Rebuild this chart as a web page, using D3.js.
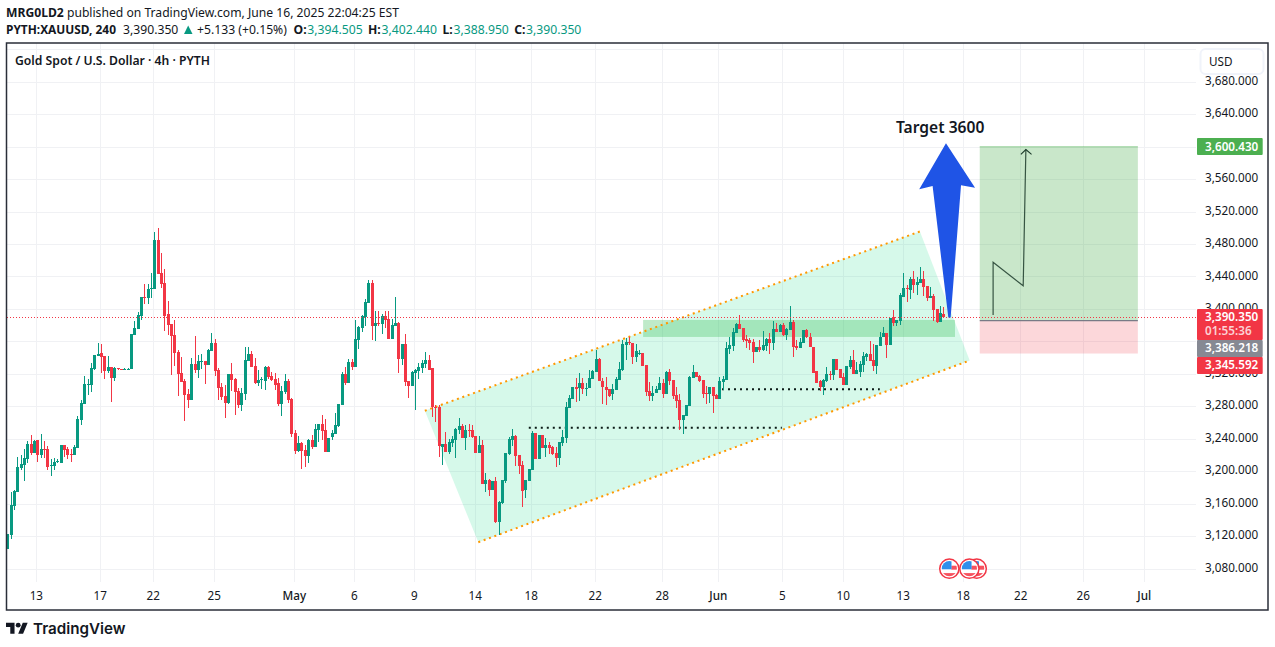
<!DOCTYPE html>
<html><head><meta charset="utf-8">
<script src="https://cdn.jsdelivr.net/npm/d3@7/dist/d3.min.js"></script>
<style>
html,body{margin:0;padding:0;background:#fff}
svg{display:block;font-family:"Noto Sans",sans-serif}
</style></head><body>
<svg id="c" width="1275" height="647"></svg>
<script>
// OHLC of the 4h candles (USD per ounce)
const open=[3105,3122,3158,3175,3205,3208,3216,3234,3223,3239,
3221,3228,3228,3207,3207,3212,3211,3233,3228,3222,
3221,3229,3264,3283,3307,3307,3327,3342,3346,3342,
3324,3329,3315,3328,3327,3325,3325,3327,3368,3376,
3392,3415,3414,3425,3425,3486,3445,3433,3394,3382,
3368,3348,3322,3312,3296,3288,3333,3325,3335,3336,
3332,3349,3359,3325,3304,3293,3285,3320,3314,3299,
3282,3296,3336,3345,3330,3309,3313,3312,3329,3318,
3314,3309,3283,3298,3312,3290,3248,3225,3235,3227,
3219,3239,3230,3251,3259,3251,3224,3243,3246,3256,
3282,3320,3309,3335,3329,3362,3377,3391,3408,3432,
3379,3383,3382,3392,3388,3363,3379,3383,3339,3357,
3312,3305,3322,3324,3328,3333,3338,3328,3280,3280,
3230,3234,3224,3235,3239,3251,3256,3242,3251,3251,
3244,3223,3233,3185,3190,3177,3189,3138,3161,3189,
3222,3239,3244,3221,3208,3177,3189,3202,3248,3216,
3245,3229,3233,3230,3223,3217,3235,3242,3279,3290,
3304,3303,3309,3302,3303,3314,3323,3339,3312,3304,
3302,3296,3301,3313,3325,3356,3360,3359,3341,3345,
3346,3332,3299,3293,3297,3301,3309,3296,3323,3313,
3295,3288,3264,3269,3281,3315,3323,3318,3313,3297,
3296,3304,3295,3290,3311,3313,3351,3355,3371,3382,
3377,3364,3362,3360,3348,3354,3350,3355,3364,3359,
3376,3372,3381,3368,3375,3385,3355,3352,3359,3375,
3366,3354,3324,3312,3304,3312,3320,3319,3339,3327,
3317,3307,3329,3338,3320,3323,3332,3341,3345,3338,
3330,3355,3366,3371,3356,3391,3383,3386,3415,3426,
3424,3438,3430,3432,3438,3429,3414,3416,3400,3385,3394.505];
const high=[3123,3175,3177,3218,3220,3228,3238,3245,3239,3239,
3246,3238,3232,3216,3217,3216,3233,3233,3230,3228,
3233,3269,3288,3318,3314,3334,3344,3359,3357,3342,
3342,3329,3329,3328,3327,3328,3328,3370,3386,3397,
3415,3431,3431,3445,3495,3500,3470,3450,3410,3382,
3387,3350,3341,3314,3302,3340,3367,3344,3345,3336,
3351,3371,3364,3328,3309,3307,3320,3334,3315,3303,
3303,3354,3354,3349,3340,3325,3317,3330,3330,3323,
3322,3315,3305,3320,3314,3291,3251,3244,3236,3233,
3240,3245,3259,3259,3270,3265,3241,3251,3272,3283,
3323,3329,3339,3339,3387,3379,3393,3413,3436,3436,
3398,3398,3394,3398,3398,3388,3415,3384,3357,3370,
3312,3324,3326,3334,3338,3347,3344,3328,3282,3282,
3234,3249,3240,3244,3254,3266,3259,3257,3259,3257,
3244,3244,3239,3198,3191,3189,3193,3164,3190,3223,
3243,3253,3245,3221,3213,3190,3203,3250,3248,3245,
3245,3242,3237,3232,3230,3237,3251,3286,3295,3304,
3315,3322,3315,3309,3325,3325,3350,3340,3315,3317,
3302,3308,3317,3335,3362,3365,3366,3359,3357,3350,
3346,3332,3311,3306,3306,3317,3314,3324,3327,3313,
3304,3296,3270,3282,3318,3332,3323,3319,3313,3306,
3304,3304,3296,3317,3318,3360,3366,3377,3383,3393,
3377,3368,3365,3364,3354,3362,3373,3365,3371,3386,
3383,3382,3383,3377,3404,3387,3362,3365,3375,3376,
3371,3354,3324,3313,3314,3329,3324,3339,3339,3327,
3322,3330,3342,3350,3335,3336,3348,3346,3361,3357,
3356,3372,3378,3371,3389,3399,3387,3420,3445,3430,
3440,3447,3440,3452,3447,3429,3428,3419,3400,3404,3402.44];
const low=[3105,3117,3153,3175,3202,3188,3211,3221,3223,3212,
3217,3217,3202,3195,3202,3211,3211,3218,3216,3212,
3221,3229,3257,3283,3294,3298,3325,3342,3322,3314,
3322,3286,3312,3325,3325,3325,3325,3327,3368,3376,
3387,3407,3407,3414,3425,3444,3426,3373,3368,3319,
3330,3293,3311,3262,3278,3288,3322,3315,3327,3308,
3332,3349,3318,3288,3288,3266,3283,3299,3270,3278,
3275,3288,3336,3329,3308,3305,3302,3301,3314,3312,
3301,3281,3268,3296,3285,3243,3222,3224,3203,3206,
3211,3228,3230,3236,3239,3224,3224,3239,3246,3255,
3282,3307,3309,3325,3329,3351,3372,3379,3408,3362,
3361,3379,3370,3377,3363,3363,3379,3322,3331,3305,
3291,3305,3276,3314,3322,3328,3325,3267,3261,3218,
3208,3224,3222,3230,3217,3246,3242,3227,3243,3242,
3223,3223,3185,3175,3170,3177,3137,3122,3160,3186,
3221,3232,3207,3197,3156,3168,3189,3202,3216,3216,
3229,3218,3222,3221,3206,3208,3232,3235,3279,3290,
3286,3287,3296,3293,3303,3314,3323,3312,3283,3282,
3292,3288,3301,3313,3324,3338,3356,3333,3335,3344,
3330,3293,3287,3287,3297,3301,3291,3296,3307,3290,
3279,3251,3246,3269,3281,3315,3317,3311,3291,3283,
3285,3272,3290,3290,3301,3313,3345,3349,3371,3376,
3360,3352,3350,3334,3348,3348,3349,3349,3345,3350,
3372,3372,3367,3362,3375,3341,3350,3352,3359,3365,
3354,3322,3309,3299,3294,3311,3313,3313,3325,3315,
3307,3307,3327,3320,3320,3317,3323,3336,3336,3324,
3320,3355,3366,3340,3356,3380,3380,3381,3415,3409,
3413,3420,3418,3432,3417,3410,3414,3386,3383,3385,3388.95];
const close=[3123,3159,3176,3206,3209,3217,3234,3223,3238,3221,
3228,3227,3206,3208,3212,3213,3233,3227,3221,3221,
3230,3265,3285,3308,3308,3328,3344,3345,3341,3324,
3329,3315,3328,3327,3325,3327,3327,3370,3377,3393,
3415,3414,3425,3426,3486,3444,3431,3392,3381,3367,
3346,3320,3311,3294,3288,3333,3325,3336,3336,3332,
3350,3359,3324,3303,3292,3285,3320,3313,3298,3282,
3297,3338,3345,3329,3309,3313,3314,3329,3317,3313,
3307,3283,3299,3312,3288,3246,3225,3235,3225,3219,
3239,3230,3252,3259,3250,3224,3241,3248,3257,3283,
3320,3309,3335,3329,3363,3378,3392,3409,3432,3379,
3383,3382,3392,3387,3363,3381,3383,3339,3357,3310,
3305,3323,3325,3329,3334,3338,3325,3280,3279,3232,
3234,3224,3237,3240,3253,3256,3242,3251,3250,3243,
3223,3233,3185,3190,3177,3189,3138,3163,3190,3223,
3240,3244,3219,3207,3176,3190,3203,3248,3216,3245,
3229,3233,3229,3222,3217,3237,3243,3280,3291,3304,
3302,3309,3302,3303,3315,3324,3339,3312,3304,3301,
3293,3302,3314,3327,3357,3360,3359,3341,3349,3346,
3330,3298,3293,3297,3302,3309,3296,3323,3312,3293,
3287,3264,3270,3282,3317,3323,3317,3312,3296,3296,
3304,3293,3290,3312,3314,3352,3356,3372,3382,3376,
3362,3361,3359,3348,3354,3350,3356,3364,3359,3376,
3372,3381,3368,3376,3385,3354,3352,3360,3375,3366,
3354,3322,3309,3304,3313,3320,3319,3339,3325,3315,
3307,3330,3338,3320,3325,3333,3343,3345,3336,3330,
3356,3366,3371,3356,3389,3383,3387,3418,3426,3425,
3438,3430,3434,3438,3428,3414,3416,3399,3385,3396,3390.35];

// Price axis (3,600 and 3,360 are hidden behind the price tags in the reference)
const priceTicks=[3680,3640,3560,3520,3480,3440,3400,3320,3280,3240,3200,3160,3120,3080];
const gridPrices=[3720,3680,3640,3600,3560,3520,3480,3440,3400,3360,3320,3280,3240,3200,3160,3120,3080];
// Time axis: label and bar position (future bars extend beyond the last candle)
const timeLabels=["13","17","22","25","May","6","9","14","18","22","28","Jun","5","10","13","18","22","26","Jul"];
const timeBars=[8.68,27.82,43.67,61.92,85.85,103.8,121.75,140,156.75,175.9,195.94,212.69,231.83,250.08,268.03,285.98,303.15,321.87,340.12];
const strongLabels=["May","Jun","Jul"];

// Drawings (bar index, price)
const channelBars=[124.9,273,287.9,140.9];
const channelPrices=[3275,3496,3337,3113];
const zoneBars=[190.2,283.5];
const zonePrices=[3387,3366];
const dotted1Bars=[156,231.7]; const dotted1Price=3254;
const dotted2Bars=[213.8,261]; const dotted2Price=3301.5;
const arrowBars=[280.8,272.8,276.8,281.5,282.2,285.3,289.5];
const arrowPrices=[3604.7,3548,3552,3390,3390,3553,3550];
const positionBars=[290.9,338.2];
const targetPrice=3600.43, entryPrice=3386.218, stopPrice=3345.592, lastPrice=3390.35;
const pathBars=[294.9,294.9,303.9,304.7];
const pathPrices=[3393,3458,3429,3597];
const headBars=[303.2,304.7,306.4];
const headPrices=[3591,3597,3591];
const eventBars=[290,287.8,281.8];

const svg=d3.select("#c");
const x=d3.scaleLinear().domain([0,280]).range([7.3,943.3]);
const y=d3.scaleLinear().domain([3080,3680]).range([569,82.2]);
const GREEN="#089981",RED="#f23645",INK="#131722";
const L=6.5,T=43,R=1196,B=582;
const n=open.length;

// grid
const grid=svg.append("g").attr("stroke","#f0f1f4").attr("stroke-width",1).attr("shape-rendering","crispEdges");
grid.selectAll("line.h").data(gridPrices).join("line").attr("class","h")
 .attr("x1",L).attr("x2",R).attr("y1",d=>y(d)).attr("y2",d=>y(d));
grid.selectAll("line.v").data(timeBars).join("line").attr("class","v")
 .attr("x1",d=>x(d)).attr("x2",d=>x(d)).attr("y1",T).attr("y2",B);

// channel + zone
const lineGen=d3.line().x(d=>x(d[0])).y(d=>y(d[1]));
const chan=channelBars.map((b,i)=>[b,channelPrices[i]]);
svg.append("path").attr("d",lineGen(chan)+"Z").attr("fill","rgb(50,225,150)").attr("fill-opacity",.2);
svg.append("rect").attr("x",x(zoneBars[0])).attr("width",x(zoneBars[1])-x(zoneBars[0]))
 .attr("y",y(zonePrices[0])).attr("height",y(zonePrices[1])-y(zonePrices[0]))
 .attr("fill","rgb(60,190,90)").attr("fill-opacity",.33);
[[chan[0],chan[1]],[chan[3],chan[2]]].forEach(s=>{
 svg.append("path").attr("d",lineGen(s)).attr("fill","none").attr("stroke","#ff9800")
  .attr("stroke-width",2).attr("stroke-dasharray","2 3.7");
});
[[dotted1Bars,dotted1Price],[dotted2Bars,dotted2Price]].forEach(([b,p])=>{
 svg.append("line").attr("x1",x(b[0])).attr("x2",x(b[1])).attr("y1",y(p)).attr("y2",y(p))
  .attr("stroke","#0b1a16").attr("stroke-width",2).attr("stroke-dasharray","2 4");
});

// long position
const pL=x(positionBars[0]),pW=x(positionBars[1])-pL;
svg.append("rect").attr("x",pL).attr("width",pW).attr("y",y(targetPrice)).attr("height",y(entryPrice)-y(targetPrice))
 .attr("fill","rgb(76,175,80)").attr("fill-opacity",.3);
svg.append("rect").attr("x",pL).attr("width",pW).attr("y",y(entryPrice)).attr("height",y(stopPrice)-y(entryPrice))
 .attr("fill",RED).attr("fill-opacity",.2);
svg.append("line").attr("x1",pL).attr("x2",pL+pW).attr("y1",y(targetPrice)).attr("y2",y(targetPrice))
 .attr("stroke","#4caf50").attr("stroke-opacity",.5);
svg.append("line").attr("x1",pL).attr("x2",pL+pW).attr("y1",y(entryPrice)).attr("y2",y(entryPrice))
 .attr("stroke","#787b86").attr("stroke-width",1.2);

// candles
const cg=svg.append("g").attr("shape-rendering","crispEdges");
const idx=d3.range(n);
const col=i=>close[i]>=open[i]?GREEN:RED;
cg.selectAll("rect.w").data(idx).join("rect").attr("class","w")
 .attr("x",i=>Math.round(x(i))-.5).attr("width",1)
 .attr("y",i=>y(high[i])).attr("height",i=>Math.max(1,y(low[i])-y(high[i])))
 .attr("fill",col);
cg.selectAll("rect.b").data(idx).join("rect").attr("class","b")
 .attr("x",i=>Math.round(x(i))-1.5).attr("width",3)
 .attr("y",i=>y(Math.max(open[i],close[i]))).attr("height",i=>Math.max(1,Math.abs(y(open[i])-y(close[i]))))
 .attr("fill",col);

// last price line
svg.append("line").attr("x1",L).attr("x2",R).attr("y1",y(lastPrice)).attr("y2",y(lastPrice))
 .attr("stroke",RED).attr("stroke-width",1).attr("stroke-dasharray","1 2").attr("shape-rendering","crispEdges");

// zig-zag path with arrow head
const zz=pathBars.map((b,i)=>[b,pathPrices[i]]);
svg.append("path").attr("d",lineGen(zz)).attr("fill","none").attr("stroke","#1c3a2a").attr("stroke-width",1.2).attr("stroke-opacity",.85);
svg.append("path").attr("d",lineGen(headBars.map((b,i)=>[b,headPrices[i]]))).attr("fill","none").attr("stroke","#1c3a2a").attr("stroke-width",1.1);

// big arrow
svg.append("path").attr("d",lineGen(arrowBars.map((b,i)=>[b,arrowPrices[i]]))+"Z").attr("fill","#1f54e6");
svg.append("text").attr("x",896).attr("y",133).attr("font-size",15.6).attr("font-weight",600).attr("fill",INK).text("Target 3600");

// event flags
const defs=svg.append("defs");
defs.append("clipPath").attr("id","fc").append("circle").attr("r",7.6);
eventBars.forEach(b=>{
 const g=svg.append("g").attr("transform",`translate(${x(b)},568.7)`);
 g.append("circle").attr("r",9.6).attr("fill","#fff").attr("stroke",RED).attr("stroke-width",1.5);
 const f=g.append("g").attr("clip-path","url(#fc)");
 f.append("rect").attr("x",-8).attr("y",-8).attr("width",16).attr("height",16).attr("fill","#fff");
 f.append("rect").attr("x",2).attr("y",-3).attr("width",6).attr("height",4).attr("fill","#f7525f");
 f.append("rect").attr("x",-8).attr("y",4.4).attr("width",16).attr("height",4).attr("fill","#f7525f");
 f.append("rect").attr("x",-8).attr("y",-8).attr("width",10.2).attr("height",8.6).attr("fill","#2f8fec");
});

// axes
const yAxis=d3.axisRight(y).tickValues(priceTicks).tickSize(0).tickPadding(8).tickFormat(d3.format(",.3f"));
const yg=svg.append("g").attr("transform","translate(1197,-1.5)").call(yAxis);
yg.select(".domain").remove();
yg.selectAll("text").attr("font-size",11.7).attr("font-family",'"Noto Sans",sans-serif').attr("fill",INK);

svg.append("g").selectAll("text").data(timeLabels).join("text")
 .attr("x",(d,i)=>x(timeBars[i])).attr("y",599.5).attr("text-anchor","middle")
 .attr("font-size",11.7).attr("fill",INK).attr("font-weight",d=>strongLabels.includes(d)?500:400).text(d=>d);

// price labels
const fmt=d3.format(",.3f");
function tag(top,h,fill,lines){
 svg.append("rect").attr("x",1197).attr("y",top).attr("width",65.7).attr("height",h).attr("rx",1).attr("fill",fill);
 lines.forEach(l=>svg.append("text").attr("x",1205).attr("y",l.y).attr("font-size",11.7).attr("font-weight",600)
  .attr("fill","#fff").attr("fill-opacity",l.o||1).text(l.t));
}
tag(138,17,"#4caf50",[{t:fmt(targetPrice),y:150.5}]);
tag(309,31,RED,[{t:fmt(lastPrice),y:320.5},{t:"01:55:36",y:334.5,o:.78}]);
tag(340,17,"#868993",[{t:fmt(entryPrice),y:352.2}]);
tag(357,17,RED,[{t:fmt(stopPrice),y:369.2}]);

// USD button
svg.append("rect").attr("x",1200.5).attr("y",49).attr("width",63).attr("height",25).attr("rx",5)
 .attr("fill","#fff").attr("stroke","#f0f3fa").attr("stroke-width",2);
svg.append("text").attr("x",1209).attr("y",65.5).attr("font-size",11.7).attr("fill",INK).text("USD");

// frame
svg.append("rect").attr("x",6.5).attr("y",43).attr("width",1261.5).attr("height",567)
 .attr("fill","none").attr("stroke","#2a2e39").attr("stroke-width",1.5);

// title
svg.append("text").attr("x",15).attr("y",65).attr("font-size",12.2).attr("font-weight",600).attr("fill",INK)
 .text("Gold Spot / U.S. Dollar · 4h · PYTH");

// header
const hd=(tx,px,py,w,fill,fs)=>svg.append("text").attr("x",px).attr("y",py).attr("font-size",fs||12.2)
 .attr("font-weight",w).attr("fill",fill||INK).text(tx);
const h1=svg.append("text").attr("x",6).attr("y",17).attr("font-size",12.15).attr("fill",INK);
h1.append("tspan").attr("font-weight",700).text("MRG0LD2");
h1.append("tspan").text(" published on TradingView.com, June 16, 2025 22:04:25 EST");
hd("PYTH:XAUUSD, 240",6,34,700,INK,11.9);
hd("3,390.350",123,34,400);
svg.append("path").attr("d","M184,34L188.2,25.5L192.5,34Z").attr("fill",GREEN);
hd("+5.133 (+0.15%)",197,34,400);
hd("O:",293.5,34,700); hd("3,394.505",307.3,34,400,GREEN);
hd("H:",368,34,700); hd("3,402.440",381.6,34,400,GREEN);
hd("L:",442.4,34,700); hd("3,388.950",453.5,34,400,GREEN);
hd("C:",514.3,34,700); hd("3,390.350",526,34,400,GREEN);

// TradingView logo
const logo=svg.append("g").attr("transform","translate(6,620.3) scale(.61)").attr("fill","#131722");
logo.append("path").attr("d","M14 22H7V11H0V4h14v18zM28 22h-8l7.5-18h8L28 22z");
logo.append("circle").attr("cx",20).attr("cy",8).attr("r",4);
svg.append("text").attr("x",33).attr("y",634).attr("font-family","Inter,sans-serif").attr("font-size",15.2)
 .attr("font-weight",600).attr("fill","#131722").text("TradingView");
</script>
</body></html>
